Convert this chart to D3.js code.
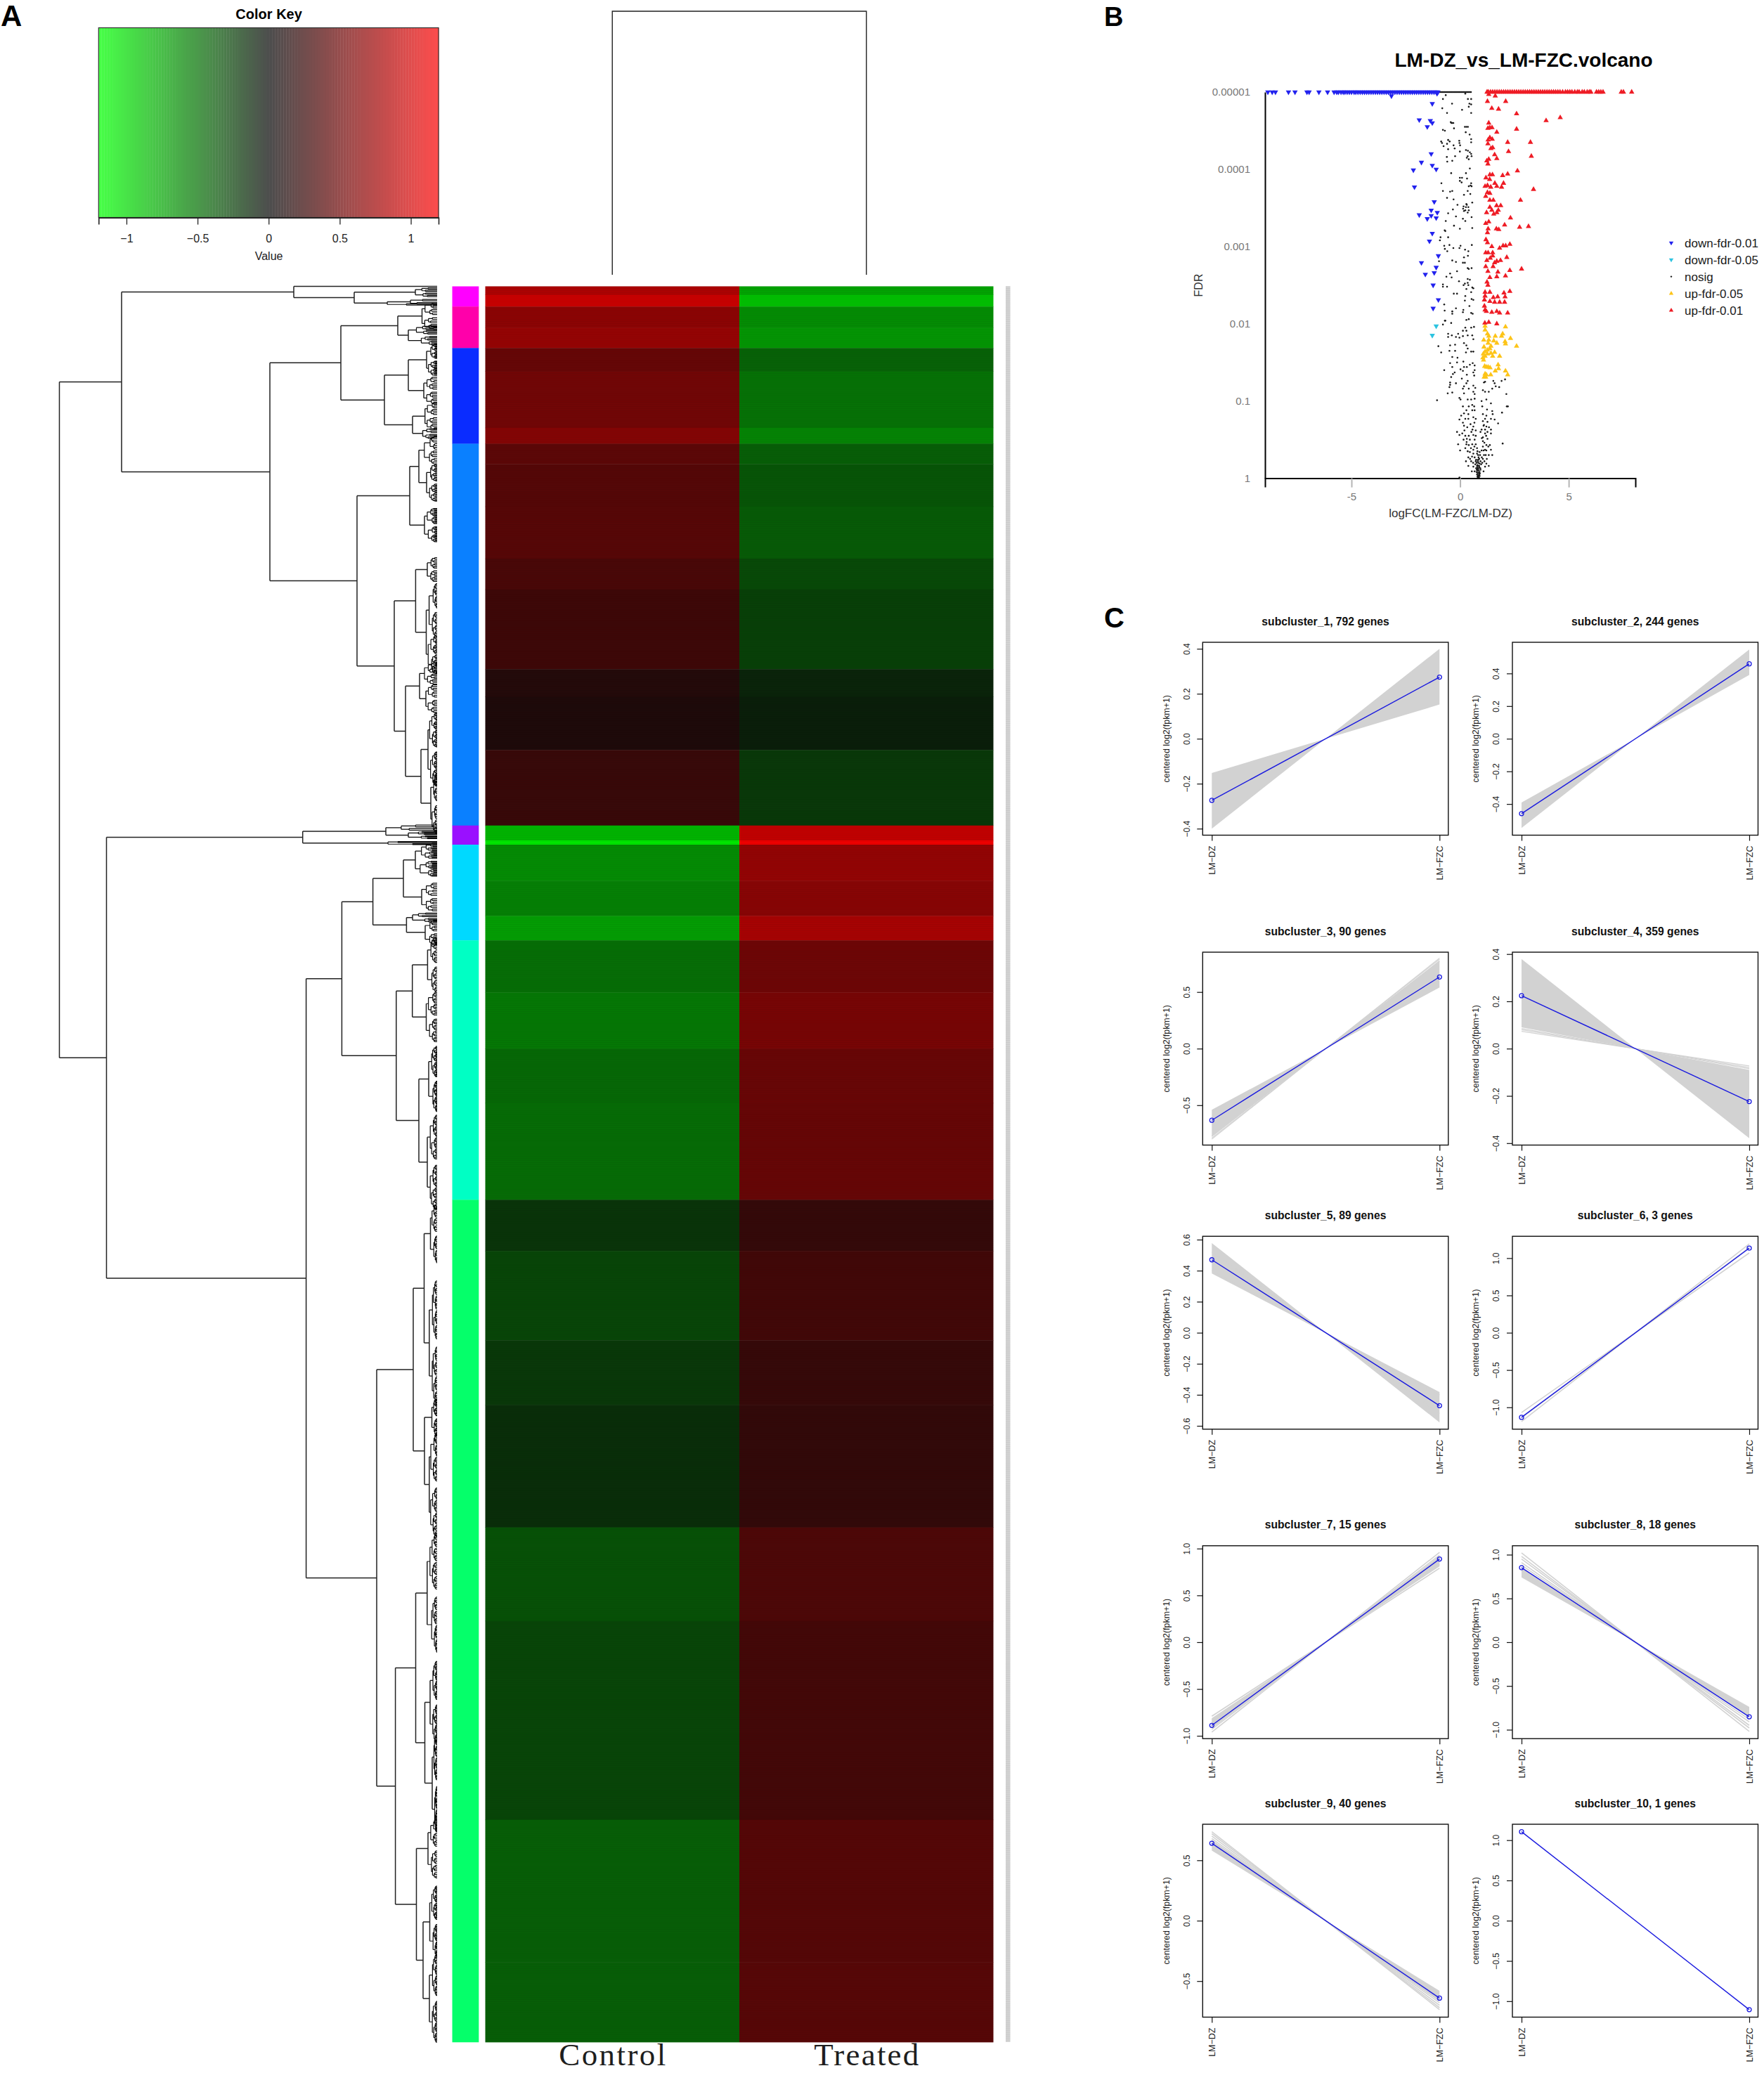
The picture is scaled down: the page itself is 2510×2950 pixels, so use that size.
<!DOCTYPE html>
<html><head><meta charset="utf-8">
<script src="https://d3js.org/d3.v7.min.js"></script>
<style>html,body{margin:0;padding:0;background:#fff}svg{display:block;font-family:"Liberation Sans",Arial,sans-serif}</style>
</head><body><div id="c"></div>
<script>
// ---------- Panel A data ----------
const sampleNames = ["Control", "Treated"];
const keyTicks = [-1, -0.5, 0, 0.5, 1];
const geneCount = 1651;
const clusterStartRow = [0, 19, 58, 148, 507, 525, 615, 859];
const clusterColor = ["#ff00ff", "#ff00aa", "#0a2cff", "#0a80ff", "#9a10ff", "#00d9ff", "#00ffc4", "#05ff6a"];
const heatStartRow = [0,8,19,39,58,80,133,148,167,207,256,285,360,386,436,507,521,525,559,592,615,664,717,768,859,907,991,1052,1167,1255,1442,1576];
const heatControl = [.83,.98,.66,.71,.47,.53,.62,.42,.38,.39,.32,.26,.13,.10,.23,-.87,-1.13,-.66,-.60,-.75,-.51,-.56,-.48,-.50,-.21,-.30,-.23,-.18,-.36,-.30,-.43,-.43];
const heatTreated = [-.78,-.93,-.66,-.71,-.45,-.53,-.62,-.43,-.38,-.41,-.32,-.27,-.13,-.10,-.23,.94,1.17,.70,.64,.80,.51,.56,.48,.47,.21,.28,.22,.20,.34,.29,.38,.39];
// row dendrogram: [merge height, child, child]; a number is a gene row
const rowTree = [537.5,
 [449,
  [204, 0, [118, [31,3,8], [71,[38,13,16],17]]],
  [238,
   [137,
    [56,[21.5,21,35],[41,41,51]],
    [75,
     [41,[15,61,77],[19,91,105]],
     [35,[17.3,115,129],[20.5,135.5,141]]]],
   [114,
    [39,[26,154,[15,175,194]],[18,216,233]],
    [61,
     [30.6,[14,260,272.5],[15.5,[11.4,291,318],346]],
     [45,[25,364,[16,380.5,395]],[23,[13,417,454],[9,471,501]]]]]]],
 [470.5,
  [191.3,[73,509,[41,514,518]],[70,522.5,524.5]],
  [186.4,
   [135.6,
    [91.4,
     [48,[31,531,547.7],[22,567,581.5]],
     [43.6,[35,591,596],[17,601,614]]],
    [58.2,
     [35.3,[13.6,624,652],[15.5,674.5,699.7]],
     [26,[12,729,761.6],[14,800,847]]]],
   [86,
    [34,
     [18.5,[9.5,876,905.6],[11.2,962.5,1024.6]],
     [18,[7.5,1054,1073],[11.2,1100.6,1152.8]]],
    [59.4,
     [30.5,[14.2,1199,1258.5],[17.5,[10,1311,1352],[7,1383,1432]]],
     [29.5,[13,1454,1484],[20,[10.5,1520,1556],[11,1588,1632]]]]]]]];
// merge heights of the fine, unreadable twigs next to the leaves (share of parent height)
const twigShare = [.7,.6,.78,.65,.82,.7,.55,.76,.62,.8,.5,.72];

// ---------- Panel B data ----------
const fdrTicks = [1e-5,1e-4,1e-3,1e-2,1e-1,1];
const fdrTickText = ["0.00001","0.0001","0.001","0.01","0.1","1"];
const fcTicks = [-5,0,5];
const legendNames = ["down-fdr-0.01","down-fdr-0.05","nosig","up-fdr-0.05","up-fdr-0.01"];
const legendColors = ["#2222ee","#2cc3e0","#1a1a1a","#fdc418","#ee1c25"];
// logFC of genes sitting at the FDR floor (0.00001)
const floorDown = [-8.85,-8.65,-8.5,-7.9,-7.6,-7.05,-6.95,-6.5,-6.1,-5.8,-5.68,-5.6,-5.48,-5.38,-5.3,-5.2,-5.1,-5,-4.88,-4.8,-4.7,-4.6,-4.5,-4.4,-4.3,-4.2,-4.1,-4,-3.9,-3.8,-3.7,-3.6,-3.5,-3.4,-3.3,-3.2,-3.1,-3,-2.9,-2.8,-2.7,-2.6,-2.5,-2.4,-2.3,-2.2,-2.1,-2,-1.9,-1.8,-1.7,-1.6,-1.5,-1.4,-1.3,-1.2,-1.1,-1.02];
const floorNosig = [-1,-.95,-.9,-.85,-.8,-.75,-.7,-.65,-.6,-.55,-.5,-.45,-.4,-.35,-.3,-.25,-.2,-.15,-.1,-.05,0,.05,.1,.15,.2,.25,.3,.35,.4,.45,.5];
const floorUp = [1.24,1.3,1.4,1.5,1.6,1.7,1.8,1.9,2,2.1,2.2,2.3,2.4,2.5,2.6,2.7,2.8,2.9,3,3.1,3.2,3.3,3.4,3.5,3.6,3.7,3.8,3.9,4,4.1,4.2,4.3,4.4,4.5,4.6,4.72,4.85,4.95,5.05,5.15,5.28,5.4,5.48,5.62,5.72,5.85,5.95,6.02,6.28,6.38,6.48,6.58,7.42,7.52,7.9];
// [logFC, -log10 FDR]
const ptsDown = [[-3.16,4.95],[-1.06,4.98],[-1.28,4.85],[-1.88,4.64],[-1.37,4.63],[-1.28,4.6],[-1.51,4.55],[-1.33,4.2],[-1.78,4.09],[-1.28,4.05],[-1.1,4],[-2.15,3.99],[-2.1,3.77],[-1.19,3.58],[-1.33,3.47],[-1.05,3.44],[-1.88,3.41],[-1.33,3.4],[-1.51,3.36],[-1.1,3.37],[-1.28,3.17],[-1.41,3.07],[-1,2.88],[-1.78,2.79],[-1.1,2.73],[-1.19,2.66],[-1.6,2.64],[-1.24,2.5],[-1,2.31],[-1.24,2.2]];
const ptsDownWeak = [[-1.1,1.97],[-1.28,1.85]];
const ptsUp = [[1.32,4.97],[1.62,4.95],[1.26,4.88],[2.1,4.88],[1.46,4.79],[1.77,4.78],[2.6,4.72],[3.96,4.63],[4.61,4.67],[1.32,4.6],[1.28,4.53],[1.37,4.54],[1.47,4.54],[2.6,4.52],[1.69,4.48],[1.37,4.41],[1.29,4.38],[1.48,4.39],[2.19,4.35],[3.24,4.35],[1.28,4.33],[1.42,4.27],[1.5,4.28],[2.23,4.23],[1.59,4.19],[1.69,4.14],[3.28,4.17],[1.32,4.13],[1.23,4.11],[1.28,4.07],[1.37,3.93],[1.49,3.93],[1.96,3.92],[2.19,3.94],[2.64,3.98],[1.19,3.89],[1.36,3.87],[1.6,3.82],[2,3.82],[1.26,3.79],[1.15,3.78],[1.41,3.77],[1.69,3.78],[1.91,3.77],[3.38,3.74],[1.26,3.7],[1.18,3.65],[1.37,3.69],[1.37,3.6],[1.53,3.6],[2.78,3.6],[1.37,3.51],[1.46,3.47],[1.68,3.53],[1.87,3.53],[1.76,3.47],[1.22,3.44],[1.55,3.42],[1.69,3.44],[2.32,3.37],[1.18,3.3],[1.32,3.32],[2.05,3.28],[2.74,3.25],[3.15,3.26],[1.29,3.23],[1.26,3.18],[1.67,3.23],[1.78,3.22],[1.19,3.09],[1.26,3.05],[1.46,3],[1.82,2.98],[1.98,3.01],[2.1,3.01],[2.29,3.03],[1.18,2.92],[1.29,2.92],[1.5,2.92],[1.5,2.88],[1.39,2.85],[1.23,2.82],[2.15,2.86],[1.86,2.82],[1.69,2.81],[1.59,2.79],[1.52,2.74],[1.18,2.74],[2.83,2.71],[1.28,2.68],[1.74,2.67],[2.29,2.69],[1.37,2.6],[1.69,2.61],[2.09,2.62],[1.24,2.54],[1.28,2.5],[1.15,2.41],[1.37,2.41],[2.29,2.42],[2.02,2.4],[1.15,2.36],[1.53,2.34],[1.73,2.35],[2.07,2.35],[1.12,2.31],[1.37,2.29],[1.59,2.28],[1.82,2.28],[2.05,2.28],[1.12,2.23],[1.15,2.18],[1.46,2.15],[1.69,2.16],[1.82,2.14],[2.19,2.14],[1.21,2.16],[1.14,2.01],[1.32,2.02],[1.69,2]];
const ptsUpWeak = [[1.15,1.97],[2.09,1.96],[1.15,1.92],[1.26,1.87],[1.32,1.84],[1.62,1.84],[1.96,1.87],[1.91,1.84],[2.32,1.81],[1.09,1.79],[1.32,1.79],[1.55,1.78],[1.69,1.75],[2.07,1.77],[2.09,1.74],[2.6,1.71],[1.29,1.75],[1.1,1.7],[1.42,1.71],[1.37,1.68],[1.26,1.66],[1.59,1.63],[1.15,1.64],[1.07,1.61],[1.26,1.61],[1.42,1.62],[1.82,1.58],[1.15,1.58],[1.5,1.58],[1.08,1.53],[1.05,1.56],[1.13,1.45],[1.21,1.44],[1.29,1.44],[1.38,1.43],[1.75,1.47],[1.77,1.42],[1.62,1.39],[2.09,1.39],[1.15,1.35],[1.21,1.34],[1.11,1.31],[1.41,1.34],[2.19,1.34],[1.18,1.31]];
const ptsNosig = [[-.66,4.96],[-.79,4.91],[.24,4.98],[.36,4.91],[.51,4.91],[.43,4.85],[.51,4.84],[-.37,4.85],[.40,4.81],[-.82,4.79],[.09,4.77],[.51,4.73],[-.60,4.73],[-.43,4.61],[-.36,4.60],[-.31,4.60],[-.40,4.60],[-.28,4.53],[.29,4.55],[.22,4.55],[.36,4.55],[-.79,4.51],[-.70,4.50],[.26,4.48],[.44,4.45],[.51,4.39],[.51,4.35],[-.04,4.37],[-.03,4.34],[-.55,4.38],[-.48,4.36],[-.87,4.36],[-.83,4.34],[-.76,4.30],[-.60,4.33],[-.30,4.31],[0,4.31],[-.55,4.26],[-.25,4.27],[-.01,4.23],[.27,4.25],[.36,4.24],[.45,4.22],[.51,4.2],[.53,4.17],[.31,4.15],[-.23,4.17],[-.61,4.16],[-.59,4.1],[-.36,4.11],[.40,4.13],[.35,4.17],[.45,4.01],[-.41,3.95],[.27,3.95],[-.01,3.89],[.09,3.89],[.32,3.88],[-.01,3.85],[.07,3.83],[-.86,3.82],[.51,3.82],[.40,3.78],[.53,3.78],[.48,3.79],[-.79,3.72],[-.46,3.71],[-.36,3.72],[.35,3.72],[.47,3.68],[.18,3.67],[-.60,3.63],[-.30,3.61],[.29,3.55],[.56,3.57],[-.12,3.54],[.31,3.54],[.16,3.52],[.38,3.51],[.27,3.51],[.14,3.49],[.40,3.47],[-.33,3.48],[.24,3.47],[.18,3.46],[.35,3.44],[-.55,3.43],[-.19,3.39],[.53,3.38],[.13,3.36],[.24,3.33],[-.66,3.33],[-.28,3.27],[-.01,3.23],[.56,3.24],[-.71,3.21],[-.68,3.20],
[-.90,3.12],[-.93,3.08],[-.55,3.12],[-.73,3.01],[-.70,2.97],[-.59,2.94],[-.49,3.02],[-.31,2.98],[-.03,2.98],[.02,3.01],[.23,2.96],[.38,2.94],[.54,3.02],[.36,2.88],[.18,2.86],[-.36,2.82],[-.97,2.81],[-.19,2.8],[.13,2.79],[.22,2.79],[.35,2.72],[.40,2.71],[.53,2.72],[-.14,2.68],[-.46,2.65],[-.63,2.61],[-.39,2.6],[.35,2.58],[.45,2.57],[-.05,2.55],[.22,2.52],[.35,2.53],[.16,2.5],[-.79,2.51],[-.79,2.48],[-.60,2.48],[.38,2.5],[.56,2.47],[.29,2.45],[.61,2.46],[.51,2.41],[-.29,2.39],[-.14,2.39],[.24,2.36],[.53,2.32],[.61,2.31],[.22,2.3],[-.73,2.25],[.43,2.23],[-.19,2.2],[.15,2.18],[-.71,2.17],[-.36,2.16],[-.36,2.13],[.13,2.15],[.51,2.14],[.58,2.13],[.40,2.06],[.29,2.05],[-.68,2.04],[-.79,1.99],[-.41,2.01],[-.70,2.04],
[.24,1.95],[.51,1.95],[.64,1.96],[.29,1.91],[.13,1.91],[-.09,1.87],[-.55,1.87],[-.38,1.85],[-.55,1.83],[-.19,1.83],[-.03,1.82],[.13,1.84],[.35,1.85],[.56,1.85],[.61,1.8],[.18,1.75],[.29,1.72],[.35,1.68],[-.46,1.72],[-.23,1.73],[-1,1.71],[-.87,1.63],[-.49,1.65],[-.23,1.65],[.51,1.64],[.61,1.64],[.27,1.63],[-.36,1.57],[-.12,1.56],[.15,1.51],[-.46,1.49],[-.14,1.5],[.58,1.49],[.45,1.47],[.67,1.46],[-.36,1.44],[.18,1.44],[.31,1.44],[-.73,1.4],[.02,1.41],[.67,1.4],[.13,1.39],[.61,1.37],[-.25,1.37],[-.33,1.35],[-.41,1.31],[.31,1.34],[.65,1.33],[.08,1.29],
[1.15,1.25],[1.1,1.24],[1.53,1.26],[1.91,1.26],[1.59,1.23],[2.07,1.28],[1.64,1.19],[1.8,1.18],[1.05,1.14],[1.15,1.12],[1.32,1.12],[2.13,1.09],[1.48,1.16],[.99,1],[1.21,1.02],[1.42,.97],[2.15,.93],[2.2,.93],[1.02,.93],[1.24,.89],[1.48,.87],[1.5,.83],[1.93,.85],[1.05,.83],[1.21,.81],[1.15,.77],[1.42,.77],[1.59,.76],[1.05,.74],[1.26,.73],[1.75,.71],[1.1,.69],[1.21,.67],[.99,.63],[1.15,.63],[1.42,.63],[1.26,.6],[.94,.6],[1.15,.58],[1.42,.58],[1.05,.53],[1.26,.51],[1.05,.48],[1.96,.45],[1.21,.43],[1.37,.43],[1.05,.41],[1.15,.37],[1.42,.37],[.99,.36],[1.21,.36],[1.1,.3],[1.32,.3],[1.48,.3],[1.05,.25],[1.23,.25],[1.02,.2],[1.21,.19],[1.15,.15],[1.32,.16],[1.08,.09],
[-.46,1.24],[-.46,1.21],[-.49,1.18],[-.19,1.23],[.18,1.19],[.35,1.26],[.29,1.23],[.61,1.2],[.7,1.17],[-.57,1.1],[.13,1.16],[.4,1.16],[.61,1.12],[.67,1.09],[-.36,1.11],[-.03,1.04],[.18,1.1],[.02,1.02],[.35,1.02],[.51,1.02],[.67,1.03],[-1.06,1.01],[.13,.93],[.4,.93],[.56,.95],[.65,.93],[.29,.88],[.18,.84],[.38,.83],[.56,.88],[.67,.88],[.05,.81],[-.03,.76],[.24,.77],[.38,.77],[.61,.79],[.72,.77],[.13,.72],[.18,.68],[.61,.67],[.57,.63],[.72,.62],[-.14,.6],[-.03,.56],[.24,.55],[.4,.55],[.61,.56],[.72,.55],[.31,.51],[.16,.5],[.45,.5],[.67,.5],[.29,.44],[-.09,.44],[.4,.43],[.56,.44],[.72,.44],[.24,.39],[.61,.37],[.78,.39],[0,.36],[.45,.34],[.61,.32],[.78,.32],[.38,.27],[.67,.27],[.85,.27],[.27,.22],[.51,.22],[.72,.22],[.94,.22],[.38,.16],[.61,.15],[.78,.16],[.88,.16],[.97,.18],[.54,.09],[.67,.09],[.78,.11],[.94,.11],[-.03,.01],
[.2,.62],[.33,.66],[.48,.7],[.66,.72],[.1,.58],[.52,.6],[.3,.47],[.5,.39],[.66,.41],[.35,.35],[.55,.28],[.46,.25],[.6,.2],[.7,.18],[.82,.22],[.92,.3],[1.0,.27],[1.12,.22],[1.18,.3],[1.08,.36],[1.3,.41],[1.12,.46],[1.0,.52],[1.2,.55],[1.33,.66],[1.08,.68],
[.8,.02],[.85,.02],[.9,.03],[.82,.04],[.88,.05],[.78,.05],[.84,.07],[.9,.08],[.76,.08],[.8,.1],[.86,.1],[.93,.13],[.82,.13],[.74,.13],[.88,.14],[.8,.17],[.9,.19],[.84,.2],[.76,.2],[.83,.01],[.87,.01],[.81,.07],[.86,.04],[.83,.12],[.79,.14],[.87,.07],[.91,.06],[.77,.11],[.85,.16],[.83,.24],[.88,.25],[.74,.24],[.83,.3],[.9,.34],[.8,.35]];

// ---------- Panel C data ----------
const clusterTitles = ["subcluster_1, 792 genes","subcluster_2, 244 genes","subcluster_3, 90 genes","subcluster_4, 359 genes","subcluster_5, 89 genes","subcluster_6, 3 genes","subcluster_7, 15 genes","subcluster_8, 18 genes","subcluster_9, 40 genes","subcluster_10, 1 genes"];
const conditions = ["LM-DZ","LM-FZC"];
const clusterYLimit = [.429,.591,.852,.408,.6215,1.293,1.03,1.102,.7985,1.198];
const clusterTicks = [[-.4,-.2,0,.2,.4],[-.4,-.2,0,.2,.4],[-.5,0,.5],[-.4,-.2,0,.2,.4],[-.6,-.4,-.2,0,.2,.4,.6],[-1,-.5,0,.5,1],[-1,-.5,0,.5,1],[-1,-.5,0,.5,1],[-.5,0,.5],[-1,-.5,0,.5,1]];
// mean at LM-FZC (LM-DZ is the mirror image)
const clusterMean = [.274,.459,.633,-.224,-.47,1.134,.888,-.852,-.641,-1.105];
// spread of the individual genes at LM-FZC
const clusterFan = [[.152,.4],[.391,.547],[.54,.78],[-.379,-.09],[-.578,-.382],null,[.81,.92],[-.84,-.74],[-.67,-.58],null];
const clusterGenes = [[],[],[.79,.80,.77],[-.073,-.08,-.085],[-.40,-.52],[1.07,1.19,1.14],[.79,.83,.86,.90,.93,.96],[-1.02,-.98,-.95,-.91,-.88,-.84],[-.736,-.72,-.70,-.68,-.66],[]];

// ---------- drawing ----------
const svg = d3.select("#c").append("svg").attr("width",2510).attr("height",2950);
svg.append("rect").attr("width",2510).attr("height",2950).attr("fill","#fff");
const txt = (g,x,y,s,o={}) => { const t=g.append("text").attr("x",x).attr("y",y).text(s);
  Object.entries(o).forEach(([k,v])=>t.attr(k,v)); return t; };

// panel letters
txt(svg,1,37,"A",{"font-size":42,"font-weight":700,"fill":"#000"});
txt(svg,1571,37,"B",{"font-size":38,"font-weight":700,"fill":"#000"});
txt(svg,1571,893,"C",{"font-size":40,"font-weight":700,"fill":"#000"});

// ---- colour key ----
const keyX = d3.scaleLinear().domain([-1.196,1.195]).range([140.3,624]);
const keyColor = d3.scaleLinear().domain([-1.2,0,1.2]).range(["#47ff47","#4d4d4d","#ff4d4d"]);
const gKey = svg.append("g");
const keySteps = d3.range(-1.196,1.195,.02);
gKey.selectAll("rect").data(keySteps).join("rect")
  .attr("x",d=>keyX(d)).attr("y",39.5).attr("width",d=>Math.min(keyX(d+.02),624)-keyX(d)+.4).attr("height",270)
  .attr("fill",d=>keyColor(d));
gKey.append("rect").attr("x",140.3).attr("y",39.5).attr("width",483.7).attr("height",270)
  .attr("fill","none").attr("stroke","#333").attr("stroke-width",1.2);
const keyAxis = gKey.append("g").attr("transform","translate(0,309.6)")
  .call(d3.axisBottom(keyX).tickValues(keyTicks).tickSize(10).tickPadding(14).tickFormat(d=>d===0?"0":d3.format("")(d)));
keyAxis.select(".domain").attr("stroke","#222").attr("stroke-width",1.6);
keyAxis.selectAll("line").attr("stroke","#222").attr("stroke-width",1.3);
keyAxis.selectAll("text").attr("font-size",16).attr("fill","#222").attr("font-family","Liberation Sans");
txt(gKey,382.6,27,"Color Key",{"font-size":20,"font-weight":700,"text-anchor":"middle"});
txt(gKey,382.6,370,"Value",{"font-size":16,"text-anchor":"middle","fill":"#222"});

// ---- heatmap ----
const rowY = d3.scaleLinear().domain([0,geneCount]).range([407.5,2906]);
const colX = d3.scaleBand().domain(sampleNames).range([690.5,1413.5]);
const heatColor = d3.scaleLinear().domain([-1.2,0,1.2]).range(["#00ff00","#0c0c0c","#ff0000"]);
const heatEnd = i => i+1<heatStartRow.length ? heatStartRow[i+1] : geneCount;
const gHeat = svg.append("g");
sampleNames.forEach((name,c)=>{
  const vals = c===0?heatControl:heatTreated;
  gHeat.append("g").selectAll("rect").data(heatStartRow).join("rect")
    .attr("x",colX(name)).attr("width",colX.bandwidth())
    .attr("y",d=>rowY(d)).attr("height",(d,i)=>rowY(heatEnd(i))-rowY(d)+.4)
    .attr("fill",(d,i)=>heatColor(vals[i]));
});
// one hairline per gene row
const rowLines = d3.path();
const stripLines = d3.path();
d3.range(geneCount).forEach(r=>{ rowLines.moveTo(690.5,rowY(r)); rowLines.lineTo(1413.5,rowY(r));
  stripLines.moveTo(1431,rowY(r)); stripLines.lineTo(1437.5,rowY(r)); });
gHeat.append("path").attr("d",rowLines.toString()).attr("stroke","#000").attr("stroke-opacity",.16).attr("stroke-width",.6).attr("fill","none");
// side colour bar
svg.append("g").selectAll("rect").data(clusterStartRow).join("rect")
  .attr("x",643.5).attr("width",37.8)
  .attr("y",d=>rowY(d)).attr("height",(d,i)=>rowY(i+1<clusterStartRow.length?clusterStartRow[i+1]:geneCount)-rowY(d)+.3)
  .attr("fill",(d,i)=>clusterColor[i]);
// tiny gene labels strip
svg.append("rect").attr("x",1431).attr("y",rowY(0)).attr("width",6.5).attr("height",rowY(geneCount)-rowY(0)).attr("fill","#dcdcdc");
svg.append("path").attr("d",stripLines.toString()).attr("stroke","#8f8f8f").attr("stroke-opacity",.4).attr("stroke-width",.6).attr("fill","none");
// sample labels
sampleNames.forEach(n=>txt(svg,colX(n)+colX.bandwidth()/2,2939,n,{"font-size":45,"font-family":"Liberation Serif","text-anchor":"middle","fill":"#1e1e1e","textLength":n==="Control"?152:149,"lengthAdjust":"spacing"}));
// column dendrogram
const colH = d3.scaleLinear().domain([0,1]).range([391,16]);
const colPath = d3.path();
const cx = n=>colX(n)+colX.bandwidth()/2;
colPath.moveTo(cx(sampleNames[0]),colH(0)); colPath.lineTo(cx(sampleNames[0]),colH(1)); colPath.lineTo(cx(sampleNames[1]),colH(1)); colPath.lineTo(cx(sampleNames[1]),colH(0));
svg.append("path").attr("d",colPath.toString()).attr("fill","none").attr("stroke","#222").attr("stroke-width",1.4);

// row dendrogram
const treeX = d3.scaleLinear().domain([0,537.5]).range([622,84.5]);
const treePath = d3.path(), twigPath = d3.path();
const nodeRow = n => typeof n==="number" ? n : (nodeRow(n[1])+nodeRow(n[2]))/2;
let twigIdx = 0;
function twig(r,half,hp){
  if(half<0.9){ twigPath.moveTo(treeX(hp),rowY(r)); twigPath.lineTo(treeX(0),rowY(r)); return; }
  const h = hp*twigShare[twigIdx++%twigShare.length];
  twigPath.moveTo(treeX(hp),rowY(r)); twigPath.lineTo(treeX(h),rowY(r));
  twigPath.moveTo(treeX(h),rowY(r-half/2)); twigPath.lineTo(treeX(h),rowY(r+half/2));
  twig(r-half/2,half/2,h); twig(r+half/2,half/2,h);
}
function drawNode(n){
  const [h,a,b]=n, ya=nodeRow(a), yb=nodeRow(b);
  treePath.moveTo(treeX(h),rowY(ya)); treePath.lineTo(treeX(h),rowY(yb));
  [a,b].forEach(ch=>{
    if(typeof ch==="number"){
      const half = h>100?0:Math.min(Math.abs(ya-yb)/2*.9,40);
      if(h>100 || half<0.9){ treePath.moveTo(treeX(h),rowY(ch)); treePath.lineTo(treeX(0),rowY(ch)); }
      else twig(ch,half,h);
    } else {
      treePath.moveTo(treeX(h),rowY(nodeRow(ch))); treePath.lineTo(treeX(ch[0]),rowY(nodeRow(ch)));
      drawNode(ch);
    }
  });
}
drawNode(rowTree);
svg.append("path").attr("d",twigPath.toString()).attr("fill","none").attr("stroke","#0a0a0a").attr("stroke-width",1.2);
svg.append("path").attr("d",treePath.toString()).attr("fill","none").attr("stroke","#222").attr("stroke-width",1.5);

// ---- volcano ----
const vx = d3.scaleLinear().domain([-8.98,8.07]).range([1800,2327]);
const vy = d3.scaleLog().domain([1,1e-5]).range([680.6,131]);
const fromL = L => Math.pow(10,-L);
const gV = svg.append("g");
const ax = gV.append("g").attr("transform","translate(0,680.6)")
  .call(d3.axisBottom(vx).tickValues(fcTicks).tickSize(13).tickPadding(8).tickFormat(d=>d===0?"0":d3.format("")(d).replace("\u2212","-")));
ax.selectAll("line").attr("stroke","#b5b5b5").attr("stroke-width",2);
ax.select(".domain").attr("stroke","#000").attr("stroke-width",2);
ax.selectAll("text").attr("font-size",15).attr("fill","#777").attr("font-family","Liberation Sans");
const ay = gV.append("g").attr("transform","translate(1800,0)")
  .call(d3.axisLeft(vy).tickValues(fdrTicks).tickSize(0).tickPadding(21).tickFormat((d,i)=>fdrTickText[i]));
ay.select(".domain").attr("stroke","#000").attr("stroke-width",2);
ay.selectAll("text").attr("font-size",15).attr("fill","#777").attr("font-family","Liberation Sans");
txt(gV,2064,736,"logFC(LM-FZC/LM-DZ)",{"font-size":17,"text-anchor":"middle","fill":"#333"});
txt(gV,0,0,"FDR",{"font-size":16,"text-anchor":"middle","fill":"#333","transform":"translate(1711,406) rotate(-90)"});
txt(gV,2168,95,"LM-DZ_vs_LM-FZC.volcano",{"font-size":28,"font-weight":700,"text-anchor":"middle","fill":"#000"});
const triUp = d3.symbol().type(d3.symbolTriangle).size(25)();
const dotsAt = (pts,color,rot) => gV.append("g").selectAll("path").data(pts).join("path").attr("d",triUp)
  .attr("transform",d=>`translate(${vx(d[0])},${vy(fromL(d[1]))}) rotate(${rot})`).attr("fill",color);
gV.append("g").selectAll("circle").data(ptsNosig.concat(floorNosig.map(f=>[f,5]))).join("circle")
  .attr("cx",d=>vx(d[0])).attr("cy",d=>vy(fromL(d[1]))).attr("r",1.3).attr("fill",legendColors[2]);
dotsAt(ptsDownWeak,legendColors[1],180);
dotsAt(ptsDown.concat(floorDown.map(f=>[f,5])),legendColors[0],180);
dotsAt(ptsUpWeak,legendColors[3],0);
dotsAt(ptsUp.concat(floorUp.map(f=>[f,5])),legendColors[4],0);
const legendY = d3.scalePoint().domain(legendNames).range([345.6,441.6]);
legendNames.forEach((n,i)=>{
  const y=legendY(n);
  if(i===2) gV.append("circle").attr("cx",2378).attr("cy",y).attr("r",1.2).attr("fill",legendColors[i]);
  else gV.append("path").attr("d",d3.symbol().type(d3.symbolTriangle).size(18)()).attr("fill",legendColors[i])
    .attr("transform",`translate(2378,${y}) rotate(${i<2?180:0})`);
  txt(gV,2397,y+6,n,{"font-size":17,"fill":"#1a1a1a"});
});

// ---- subcluster panels ----
const colLeft = [1711.3,2152];
const rowTop = [914,1355,1759.3,2199.7,2596];
const boxW = 349.5, boxH = 274.5;
clusterTitles.forEach((title,i)=>{
  const g = svg.append("g").attr("transform",`translate(${colLeft[i%2]},${rowTop[Math.floor(i/2)]})`);
  const x = d3.scalePoint().domain(conditions).range([13,337]);
  const lim = clusterYLimit[i];
  const y = d3.scaleLinear().domain([-lim,lim]).range([boxH,0]);
  const m = clusterMean[i], xa=x(conditions[0]), xb=x(conditions[1]), xm=(xa+xb)/2;
  const fan = clusterFan[i];
  if(fan){
    g.append("path").attr("fill","#d2d2d2")
      .attr("d",`M${xa},${y(-fan[0])}L${xm},${y(0)}L${xa},${y(-fan[1])}Z M${xb},${y(fan[0])}L${xm},${y(0)}L${xb},${y(fan[1])}Z`);
  }
  g.append("g").selectAll("line").data(clusterGenes[i]).join("line")
    .attr("x1",xa).attr("x2",xb).attr("y1",d=>y(-d)).attr("y2",d=>y(d))
    .attr("stroke","#d2d2d2").attr("stroke-width",i>=5?1.6:1.2);
  const line = d3.line().x(d=>x(d[0])).y(d=>y(d[1]));
  const meanPts = [[conditions[0],-m],[conditions[1],m]];
  g.append("path").attr("d",line(meanPts)).attr("fill","none").attr("stroke","#1a1adf").attr("stroke-width",1.4);
  g.append("g").selectAll("circle").data(meanPts).join("circle")
    .attr("cx",d=>x(d[0])).attr("cy",d=>y(d[1])).attr("r",3).attr("fill","none").attr("stroke","#1a1adf").attr("stroke-width",1.3);
  g.append("rect").attr("width",boxW).attr("height",boxH).attr("fill","none").attr("stroke","#111").attr("stroke-width",1.4);
  const axL = g.append("g").call(d3.axisLeft(y).tickValues(clusterTicks[i]).tickSize(8).tickFormat(d3.format(".1f")));
  axL.select(".domain").remove();
  axL.selectAll("line").attr("stroke","#111").attr("stroke-width",1.2);
  axL.selectAll("text").attr("x",0).attr("y",0).attr("dy",".35em").attr("text-anchor","middle")
    .attr("transform","translate(-23,0) rotate(-90)").attr("font-size",12).attr("fill","#222").attr("font-family","Liberation Sans");
  const axB = g.append("g").attr("transform",`translate(0,${boxH})`).call(d3.axisBottom(x).tickSize(8).tickFormat(d=>d.replace("-","\u2212")));
  axB.select(".domain").remove();
  axB.selectAll("line").attr("stroke","#111").attr("stroke-width",1.2);
  axB.selectAll("text").attr("x",0).attr("y",0).attr("dy",".35em").attr("text-anchor","end")
    .attr("transform","translate(0,15) rotate(-90)").attr("font-size",12.5).attr("fill","#222").attr("font-family","Liberation Sans");
  txt(g,-52,boxH/2,"centered log2(fpkm+1)",{"font-size":12.4,"text-anchor":"middle","fill":"#222","transform":`rotate(-90,-52,${boxH/2})`,"dy":".35em"});
  txt(g,boxW/2,-24.5,title,{"font-size":15.7,"font-weight":700,"text-anchor":"middle","fill":"#111"});
});
</script></body></html>
